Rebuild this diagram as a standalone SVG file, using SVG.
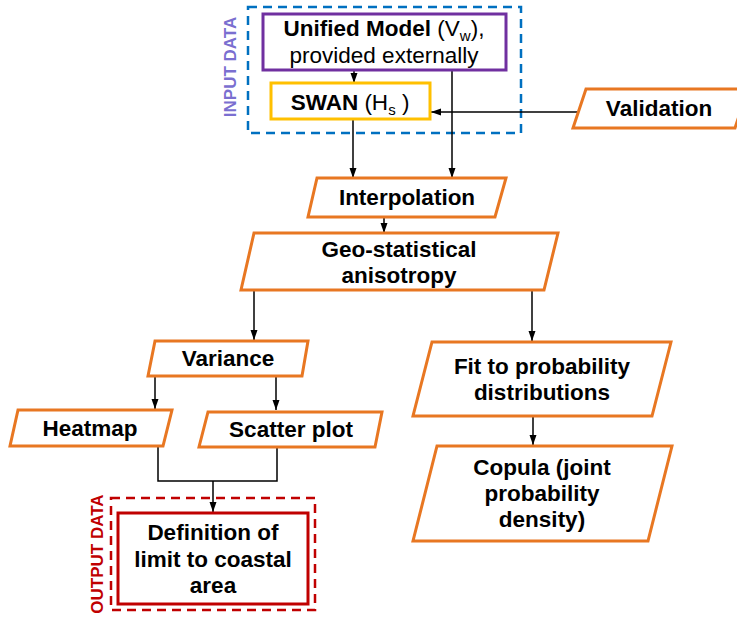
<svg xmlns="http://www.w3.org/2000/svg" width="737" height="618" viewBox="0 0 737 618">
<style>
text{font-family:"Liberation Sans",Arial,sans-serif;font-size:22.5px;fill:#000;text-anchor:middle}
.b{font-weight:bold}
.par{fill:#fff;stroke:#E87722;stroke-width:3;stroke-linejoin:miter}
.con{fill:none;stroke:#000;stroke-width:1.5}
.lbl{font-size:17px;font-weight:bold}
</style>
<defs>
<marker id="ah" markerUnits="userSpaceOnUse" markerWidth="10" markerHeight="10" viewBox="0 0 10 10" refX="10" refY="5" orient="auto">
<path d="M0,1.5 L10,5 L0,8.5 Z" fill="#000"/>
</marker>
</defs>
<rect width="737" height="618" fill="#fff"/>

<g id="input-group">
<rect x="248" y="7" width="273" height="126" fill="none" stroke="#0070C0" stroke-width="2.5" stroke-dasharray="9,6"/>
<text class="lbl" transform="translate(236,67) rotate(-90)" style="fill:#7A6FD0">INPUT DATA</text>
</g>

<g id="output-group">
<rect x="111" y="498" width="204" height="112" fill="none" stroke="#C00000" stroke-width="2.5" stroke-dasharray="9,6"/>
<text class="lbl" transform="translate(103,554) rotate(-90)" style="fill:#C00000">OUTPUT DATA</text>
</g>

<g id="connectors">
<line class="con" x1="354" y1="70" x2="354" y2="83" marker-end="url(#ah)"/>
<line class="con" x1="452" y1="70" x2="452" y2="178" marker-end="url(#ah)"/>
<line class="con" x1="578" y1="112" x2="431" y2="112" marker-end="url(#ah)"/>
<line class="con" x1="353" y1="119" x2="353" y2="178" marker-end="url(#ah)"/>
<line class="con" x1="384" y1="217" x2="384" y2="233" marker-end="url(#ah)"/>
<line class="con" x1="254" y1="290" x2="254" y2="340" marker-end="url(#ah)"/>
<line class="con" x1="532" y1="291" x2="532" y2="341" marker-end="url(#ah)"/>
<line class="con" x1="155" y1="376" x2="155" y2="409" marker-end="url(#ah)"/>
<line class="con" x1="276" y1="376" x2="276" y2="410" marker-end="url(#ah)"/>
<polyline class="con" points="158,446 158,481 277,481 277,447"/>
<line class="con" x1="213" y1="481" x2="213" y2="512" marker-end="url(#ah)"/>
<line class="con" x1="533" y1="416" x2="533" y2="445" marker-end="url(#ah)"/>
</g>

<g id="unified-model">
<rect x="263" y="14" width="243" height="56" fill="#fff" stroke="#7030A0" stroke-width="3"/>
<text x="384" y="36"><tspan class="b">Unified Model</tspan> (V<tspan font-size="15" dy="5">w</tspan><tspan dy="-5">),</tspan></text>
<text x="384" y="63">provided externally</text>
</g>

<g id="swan">
<rect x="271" y="83" width="159" height="36" fill="#fff" stroke="#FFC000" stroke-width="3"/>
<text x="350" y="110"><tspan class="b">SWAN</tspan> (H<tspan font-size="15" dy="5">s</tspan><tspan dy="-5"> )</tspan></text>
</g>

<g id="validation">
<polygon class="par" points="586,89 748,89 735,128 573,128"/>
<text class="b" x="659" y="116">Validation</text>
</g>

<g id="interpolation">
<polygon class="par" points="317,178 506,178 495,217 308,217"/>
<text class="b" x="407" y="205">Interpolation</text>
</g>

<g id="geo-statistical">
<polygon class="par" points="254,233 558,233 544,290 241,290"/>
<text class="b" x="399" y="257">Geo-statistical</text>
<text class="b" x="399" y="283">anisotropy</text>
</g>

<g id="variance">
<polygon class="par" points="155,341 308,341 302,376 148,376"/>
<text class="b" x="228" y="366">Variance</text>
</g>

<g id="heatmap">
<polygon class="par" points="18,410 172,410 163,446 10,446"/>
<text class="b" x="90" y="436">Heatmap</text>
</g>

<g id="scatter-plot">
<polygon class="par" points="208,412 382,412 375,447 199,447"/>
<text class="b" x="291" y="437">Scatter plot</text>
</g>

<g id="definition">
<rect x="118" y="513" width="190" height="91" fill="#fff" stroke="#C00000" stroke-width="3"/>
<text class="b" x="213" y="540">Definition of</text>
<text class="b" x="213" y="567">limit to coastal</text>
<text class="b" x="213" y="593">area</text>
</g>

<g id="fit-distributions">
<polygon class="par" points="432,342 671,342 652,416 413,416"/>
<text class="b" x="542" y="374">Fit to probability</text>
<text class="b" x="542" y="400">distributions</text>
</g>

<g id="copula">
<polygon class="par" points="437,446 672,446 648,541 413,541"/>
<text class="b" x="542" y="475">Copula (joint</text>
<text class="b" x="542" y="501">probability</text>
<text class="b" x="542" y="527">density)</text>
</g>
</svg>
